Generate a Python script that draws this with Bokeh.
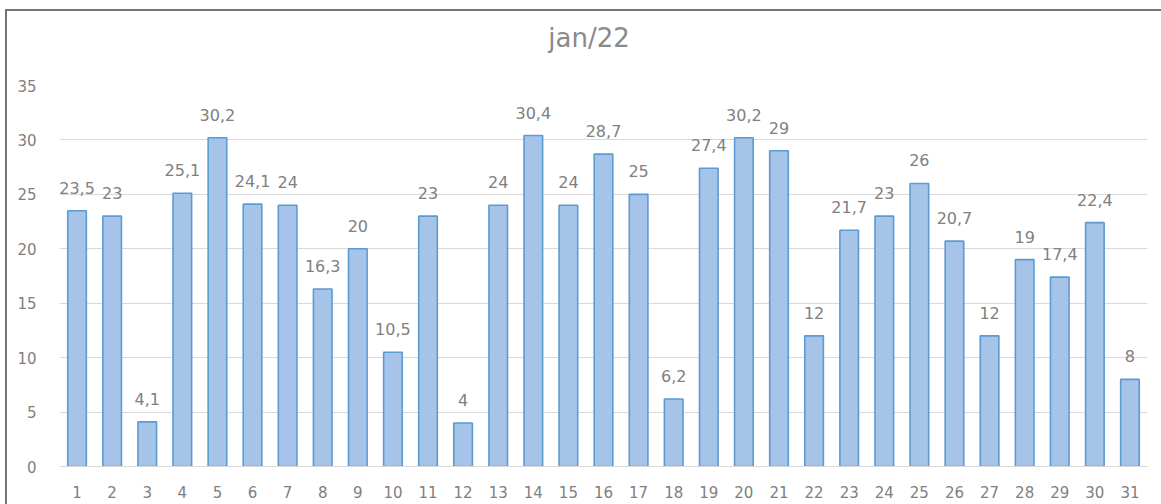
from bokeh.plotting import figure
from bokeh.models import ColumnDataSource, FixedTicker, Div
from bokeh.layouts import column
from bokeh.core.properties import value
from bokeh.embed import file_html
from bokeh.resources import INLINE

days = [str(d) for d in range(1, 32)]
values = [23.5, 23, 4.1, 25.1, 30.2, 24.1, 24, 16.3, 20, 10.5, 23, 4, 24, 30.4, 24,
          28.7, 25, 6.2, 27.4, 30.2, 29, 12, 21.7, 23, 26, 20.7, 12, 19, 17.4, 22.4, 8]
labels = [("%g" % v).replace(".", ",") for v in values]
y_ticks = [0, 5, 10, 15, 20, 25, 30, 35]
title_text = "jan/22"

FONT = "DejaVu Sans"
GRAY = "#808080"

src = ColumnDataSource(dict(day=days, val=values, lab=labels))

head = Div(text='<div style="padding-top:7px">%s</div>' % title_text, width=1154, height=52,
           styles={"font-family": FONT, "font-size": "26px", "color": "#8a8a8a",
                   "text-align": "center", "line-height": "30px", "overflow": "hidden"})

p = figure(width=1154, height=431, x_range=days, y_range=(0, 35),
           output_backend="svg", toolbar_location=None,
           min_border_left=52, min_border_right=14, min_border_top=12, min_border_bottom=38)
p.title = None

p.vbar(x="day", top="val", width=0.53, source=src, fill_color="#a6c3e8",
       line_color="#5b9bd5", line_width=1.6)
p.text(x="day", y="val", text="lab", source=src, text_align="center",
       text_baseline="alphabetic", y_offset=-23, text_font=value(FONT),
       text_font_size="16px", text_color=GRAY)

p.outline_line_color = None
p.xgrid.grid_line_color = None
p.ygrid.grid_line_color = "#d9d9d9"
p.ygrid.grid_line_width = 1.2
p.yaxis.ticker = FixedTicker(ticks=y_ticks)
for ax in (p.xaxis, p.yaxis):
    ax.axis_line_color = None
    ax.major_tick_line_color = None
    ax.minor_tick_line_color = None
    ax.major_label_text_font = FONT
    ax.major_label_text_font_size = "15px"
    ax.major_label_text_color = GRAY
p.xaxis.axis_line_color = "#d9d9d9"
p.xaxis.major_label_standoff = 13
p.yaxis.major_label_standoff = 17

layout = column(head, p, spacing=0, margin=(9, 0, 0, 5),
                styles={"border-top": "2px solid #747474", "border-left": "2px solid #747474"})

open("out.html", "w").write(file_html(layout, INLINE))
